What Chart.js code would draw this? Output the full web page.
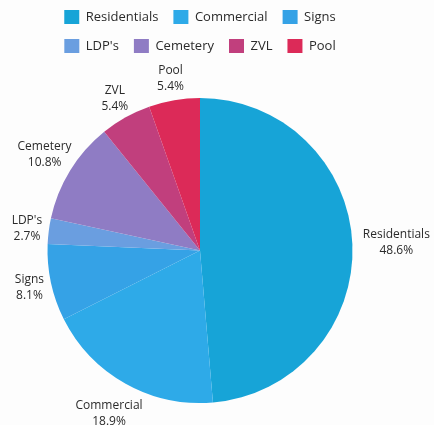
<!DOCTYPE html>
<html>
<head>
<meta charset="utf-8">
<script src="https://cdn.jsdelivr.net/npm/chart.js@4/dist/chart.umd.min.js"></script>
<style>
  html, body { margin: 0; padding: 0; background: #fdfdfd; overflow: hidden; }
  #wrap { position: relative; width: 434px; height: 425px; }
</style>
</head>
<body>
<div id="wrap"><canvas id="pieChart"></canvas></div>
<script>
const categories = ["Residentials", "Commercial", "Signs", "LDP's", "Cemetery", "ZVL", "Pool"];
const counts = [18, 7, 3, 1, 4, 2, 2];
const percentLabels = ["48.6%", "18.9%", "8.1%", "2.7%", "10.8%", "5.4%", "5.4%"];
const sliceColors = ["#17a4d7", "#2eaae8", "#35a2e6", "#6a9ee0", "#8f7cc4", "#c13f7d", "#dc2a58"];

// distance of each outside label from the pie edge
const labelGap = [44, 34, 22, 22, 30, 22, 22];

const outsideLabels = {
    id: "outsideLabels",
    afterDatasetsDraw(chart) {
        const ctx = chart.ctx;
        const arcs = chart.getDatasetMeta(0).data;
        ctx.save();
        ctx.fillStyle = "#2b2b2b";
        ctx.font = "12px 'Open Sans', sans-serif";
        ctx.textAlign = "center";
        ctx.textBaseline = "middle";
        arcs.forEach((arc, i) => {
            const p = arc.getProps(["x", "y", "startAngle", "endAngle", "outerRadius"], true);
            const mid = (p.startAngle + p.endAngle) / 2;
            const r = p.outerRadius + labelGap[i];
            const x = p.x + Math.cos(mid) * r;
            const y = p.y + Math.sin(mid) * r;
            ctx.fillText(categories[i], x, y - 8);
            ctx.fillText(percentLabels[i], x, y + 8);
        });
        ctx.restore();
    }
};

// push the pie down below the legend so the labels fit
const legendSpace = {
    id: "legendSpace",
    beforeInit(chart) {
        const origFit = chart.legend.fit;
        chart.legend.fit = function () {
            origFit.call(this);
            this.height += 35;
        };
    }
};

new Chart(document.getElementById("pieChart"), {
    type: "pie",
    data: {
        labels: categories,
        datasets: [{
            data: counts,
            backgroundColor: sliceColors,
            borderWidth: 0
        }]
    },
    options: {
        responsive: true,
        maintainAspectRatio: false,
        animation: false,
        layout: { padding: { top: -5, left: 40, right: 74, bottom: 22 } },
        plugins: {
            legend: {
                position: "top",
                labels: {
                    boxWidth: 15,
                    boxHeight: 14,
                    padding: 15,
                    color: "#2b2b2b",
                    font: { family: "'Open Sans', sans-serif", size: 13 }
                }
            },
            tooltip: { enabled: false }
        }
    },
    plugins: [outsideLabels, legendSpace]
});
</script>
</body>
</html>
